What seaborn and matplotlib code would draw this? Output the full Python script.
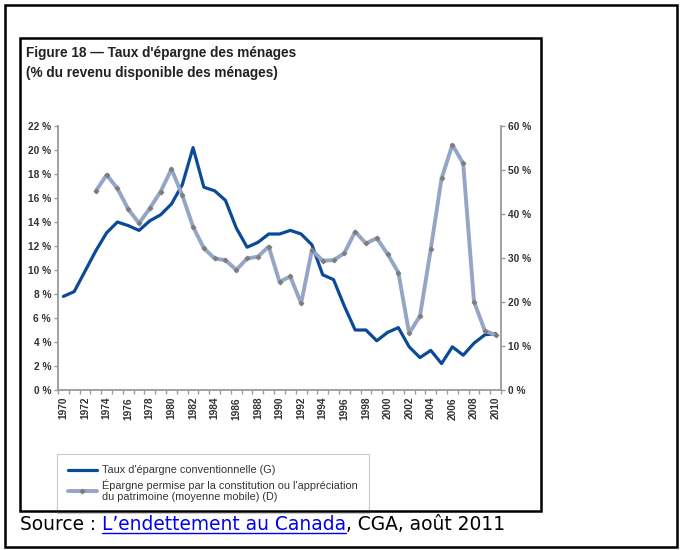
import numpy as np
import pandas as pd
import matplotlib
matplotlib.use("Agg")
import matplotlib.pyplot as plt
import seaborn as sns
from matplotlib.patches import Rectangle
from matplotlib.lines import Line2D
from matplotlib.ticker import FixedLocator, FuncFormatter

# ---------------- data ----------------
years = list(range(1970, 2011))
taux_conventionnel = [7.8, 8.2, 9.9, 11.6, 13.1, 14.0, 13.7, 13.3, 14.1, 14.6,
                      15.5, 17.1, 20.2, 16.9, 16.6, 15.8, 13.5, 11.9, 12.3, 13.0,
                      13.0, 13.3, 13.0, 12.1, 9.6, 9.2, 7.0, 5.0, 5.0, 4.1,
                      4.8, 5.2, 3.6, 2.7, 3.3, 2.2, 3.6, 2.9, 3.9, 4.6, 4.7]
years_patrimoine = list(range(1973, 2011))
epargne_patrimoine = [45.2, 48.9, 45.8, 41.1, 37.9, 41.3, 45.1, 50.2, 44.3, 37.1,
                      32.2, 29.9, 29.5, 27.3, 29.9, 30.3, 32.6, 24.6, 25.8, 19.7,
                      31.8, 29.4, 29.5, 31.1, 36.0, 33.3, 34.5, 30.9, 26.7, 12.9,
                      16.8, 32.0, 48.1, 55.7, 51.5, 20.1, 13.5, 12.5]
left_ticks = list(range(0, 23, 2))
right_ticks = list(range(0, 61, 10))
year_labels = list(range(1970, 2011, 2))

title_text = "Figure 18 \u2014 Taux d'\u00e9pargne des m\u00e9nages\n(% du revenu disponible des m\u00e9nages)"
label_g = "Taux d'\u00e9pargne conventionnelle (G)"
label_d = "\u00c9pargne permise par la constitution ou l'appr\u00e9ciation\ndu patrimoine (moyenne mobile) (D)"

df_g = pd.DataFrame({"annee": years, "taux": taux_conventionnel})
df_d = pd.DataFrame({"annee": years_patrimoine, "taux": epargne_patrimoine})

# ---------------- style ----------------
sns.set_style("white")
plt.rcParams["font.family"] = ["Liberation Sans", "DejaVu Sans"]

W, H = 682, 550
fig = plt.figure(figsize=(W / 100, H / 100), dpi=100)
fig.patch.set_facecolor("white")

def fx(px):
    return px / W

def fy(py):
    return 1 - py / H

ax_l, ax_r, ax_t, ax_b = 58, 501, 126, 390
ax = fig.add_axes([fx(ax_l), fy(ax_b), fx(ax_r - ax_l), (ax_b - ax_t) / H])
ax2 = ax.twinx()

blue = "#0b4a96"
grey = "#95a5c6"
axis_grey = "#9a9a9a"
txt = "#333333"

sns.lineplot(data=df_g, x="annee", y="taux", ax=ax, color=blue, lw=2.3,
             legend=False, zorder=3)
sns.lineplot(data=df_d, x="annee", y="taux", ax=ax2, color=grey, lw=2.8,
             marker="D", markersize=2.4, markerfacecolor="#7d7d7d",
             markeredgecolor="#7d7d7d", legend=False, zorder=2)

ax.set_xlim(1969.5, 2010.5)
ax.set_ylim(0, 22)
ax2.set_ylim(0, 60)
ax.set_xlabel("")
ax.set_ylabel("")
ax2.set_ylabel("")

for a in (ax, ax2):
    a.patch.set_visible(False)
    a.grid(False)
    for s in a.spines.values():
        s.set_visible(False)
ax.spines["left"].set_visible(True)
ax.spines["bottom"].set_visible(True)
ax2.spines["right"].set_visible(True)
for s in (ax.spines["left"], ax.spines["bottom"], ax2.spines["right"]):
    s.set_color(axis_grey)
    s.set_linewidth(1.3)

pct = FuncFormatter(lambda v, p: f"{int(v)} %")
ax.yaxis.set_major_locator(FixedLocator(left_ticks))
ax.yaxis.set_major_formatter(pct)
ax2.yaxis.set_major_locator(FixedLocator(right_ticks))
ax2.yaxis.set_major_formatter(pct)
ax.tick_params(axis="y", which="major", direction="out", length=3, width=1,
               color=axis_grey, labelsize=7.3, labelcolor=txt, pad=2, left=True)
ax2.tick_params(axis="y", which="major", direction="out", length=3, width=1,
                color=axis_grey, labelsize=7.3, labelcolor=txt, pad=2, right=True)

ax.xaxis.set_major_locator(FixedLocator(year_labels))
ax.xaxis.set_major_formatter(FuncFormatter(lambda v, p: f"{int(round(v))}"))
ax.xaxis.set_minor_locator(FixedLocator(np.arange(1969.5, 2011, 1.0)))
ax.tick_params(axis="x", which="major", length=0, labelsize=7.3,
               labelcolor=txt, pad=5, labelrotation=90, bottom=True)
ax.tick_params(axis="x", which="minor", direction="out", length=3, width=1,
               color=axis_grey, bottom=True)
for lab in ax.get_xticklabels():
    lab.set_fontweight("bold")
for lab in ax.get_yticklabels() + ax2.get_yticklabels():
    lab.set_fontweight("bold")

# ---------------- title ----------------
fig.text(fx(26), fy(46), title_text, ha="left", va="top", fontsize=9.8,
         fontweight="bold", color="#222222", linespacing=1.5)

# ---------------- legend ----------------
handles = [Line2D([], [], color=blue, lw=2.3),
           Line2D([], [], color=grey, lw=2.8, marker="D", markersize=2.2,
                  markerfacecolor="#7d7d7d", markeredgecolor="#7d7d7d")]
leg = fig.legend(handles, [label_g, label_d], loc="upper left",
                 bbox_to_anchor=(fx(57), fy(454)), fontsize=7.8,
                 frameon=True, fancybox=False, handlelength=2.6,
                 handletextpad=0.5, borderpad=1.05, labelspacing=0.35,
                 borderaxespad=0)
leg.get_frame().set_edgecolor("#bbbbbb")
leg.get_frame().set_linewidth(0.8)
for t in leg.get_texts():
    t.set_color(txt)
    t.set_linespacing(1.15)

# ---------------- frames ----------------
fig.add_artist(Rectangle((fx(20), fy(511)), fx(541 - 20), (511 - 38) / H,
                         transform=fig.transFigure, fill=False,
                         edgecolor="black", lw=1.8, zorder=10))
fig.add_artist(Rectangle((fx(5), fy(547)), fx(677 - 5), (547 - 5) / H,
                         transform=fig.transFigure, fill=False,
                         edgecolor="black", lw=1.8, zorder=10))

# ---------------- source line ----------------
renderer = fig.canvas.get_renderer()
src_fs = 13.4
x0 = fx(20)
ysrc = fy(530)
parts = [("Source : ", "black", False),
         ("L\u2019endettement au Canada", "#0000ee", True),
         (", CGA, ao\u00fbt 2011", "black", False)]
xcur = x0
for s, col, und in parts:
    t = fig.text(xcur, ysrc, s, ha="left", va="baseline", fontsize=src_fs,
                 color=col, family=["DejaVu Sans"])
    bb = t.get_window_extent(renderer=renderer)
    if und:
        fig.add_artist(Line2D([xcur, xcur + bb.width / W], [ysrc - 2.5 / H, ysrc - 2.5 / H],
                              transform=fig.transFigure, color=col, lw=1.0))
    xcur += bb.width / W

fig.savefig("out.png", dpi=100)
